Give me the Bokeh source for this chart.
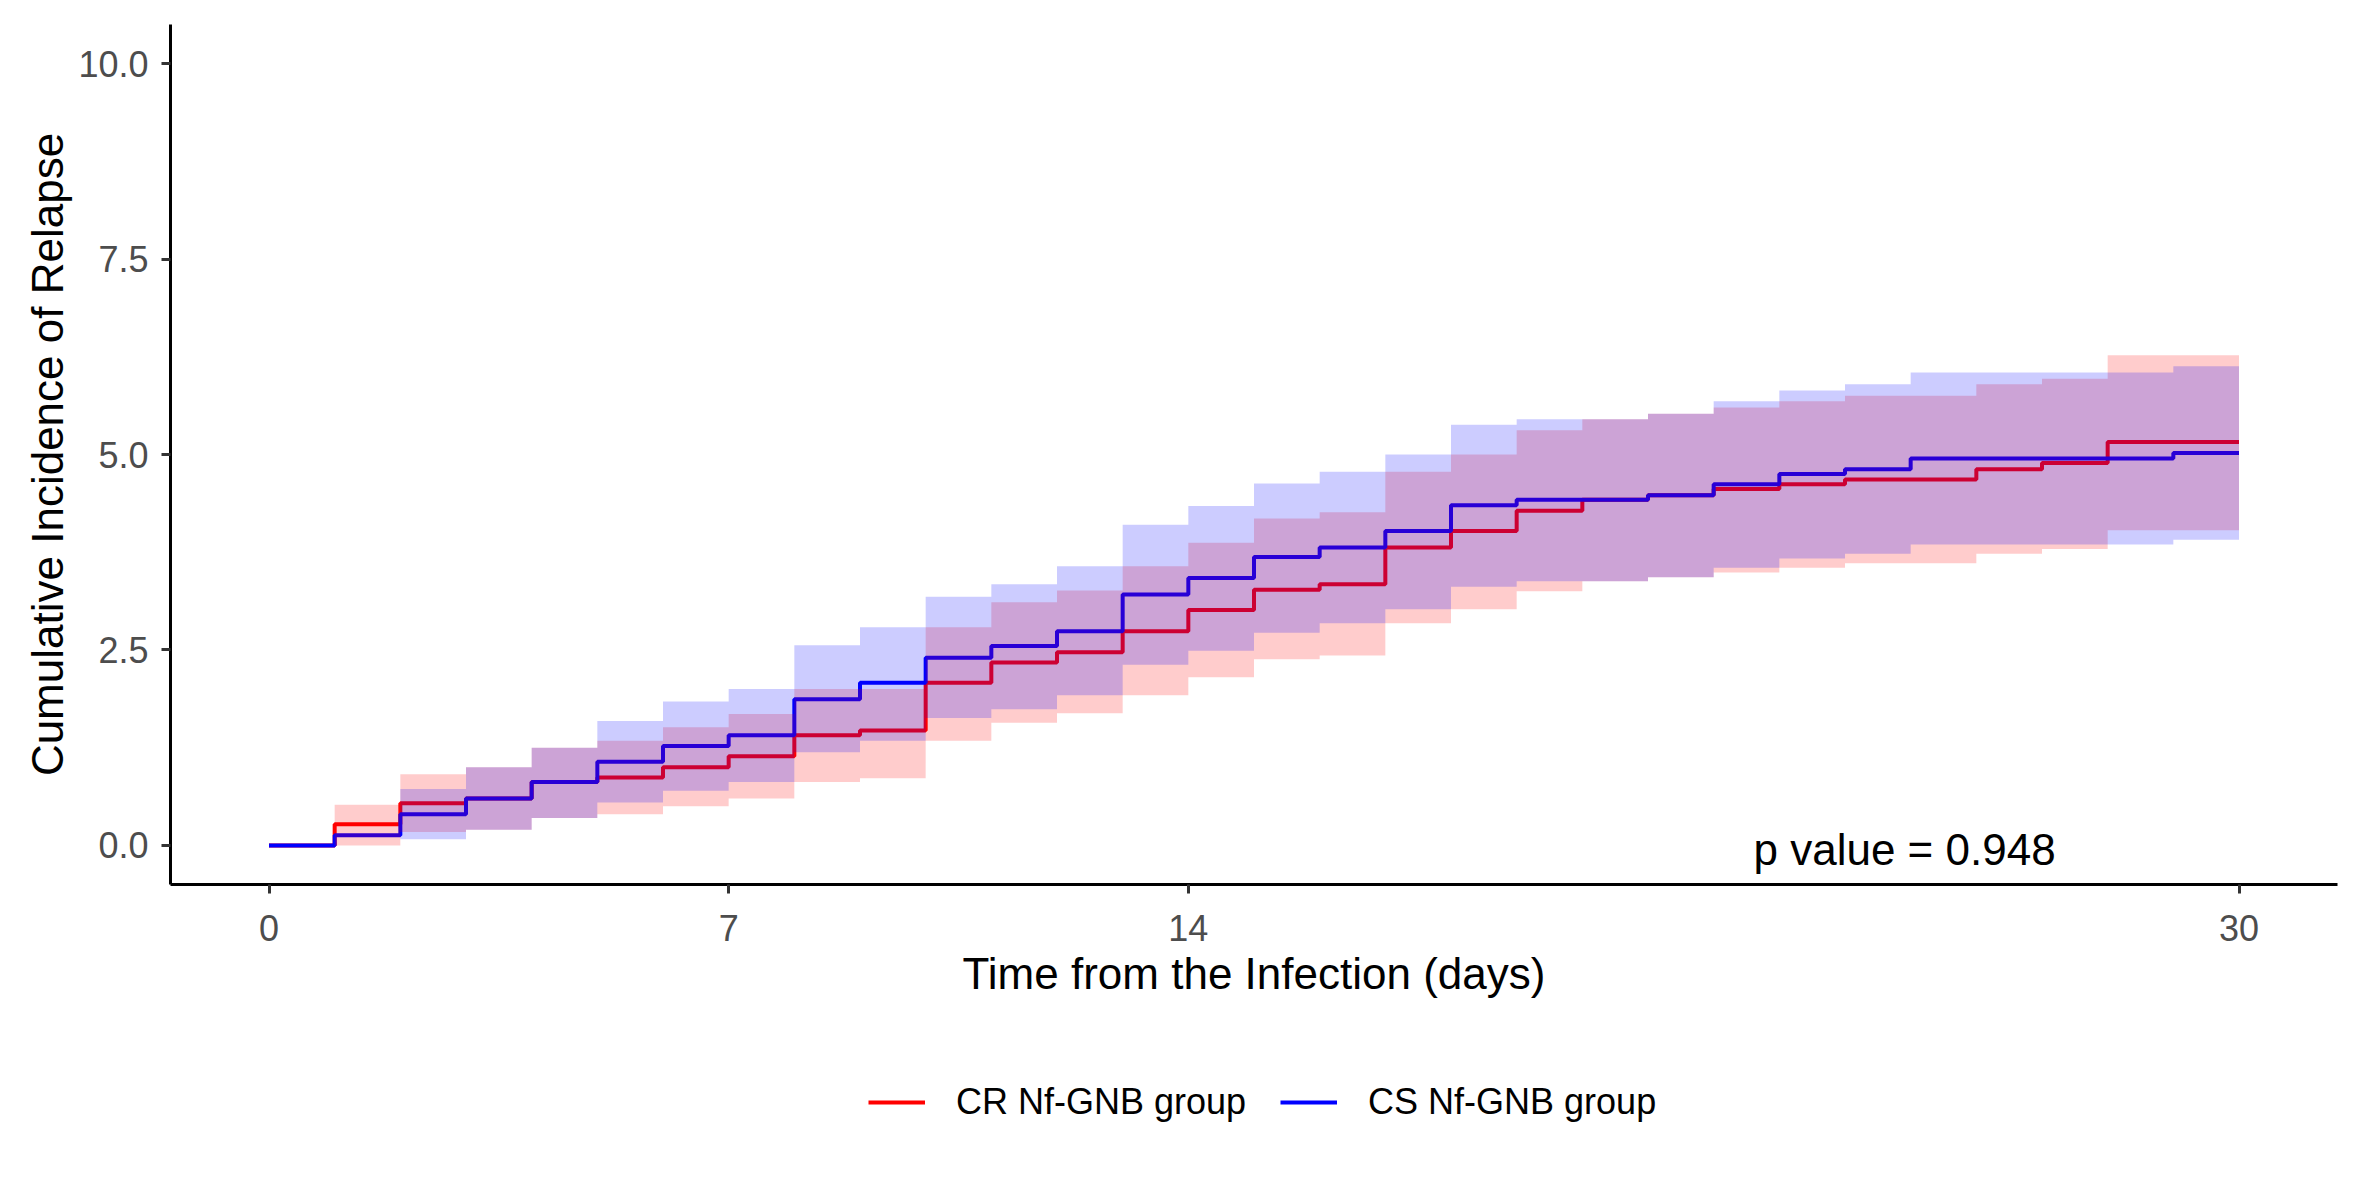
from bokeh.plotting import figure
from bokeh.layouts import column
from bokeh.models import Range1d, FixedTicker, Legend, LegendItem
from bokeh.core.properties import value
from bokeh.embed import file_html
from bokeh.resources import INLINE

# ---- data ----
days = list(range(0, 31))  # interval starts 0..29, end 30

cr_est = [0.00, 0.27, 0.54, 0.60, 0.81, 0.87, 1.00, 1.14, 1.41, 1.47,
          2.08, 2.34, 2.47, 2.74, 3.01, 3.27, 3.34, 3.81, 4.02, 4.28,
          4.42, 4.48, 4.56, 4.62, 4.68, 4.68, 4.81, 4.89, 5.16, 5.16]
cs_est = [0.00, 0.13, 0.40, 0.60, 0.81, 1.07, 1.27, 1.41, 1.87, 2.08,
          2.40, 2.55, 2.74, 3.21, 3.42, 3.69, 3.81, 4.02, 4.35, 4.42,
          4.42, 4.48, 4.62, 4.75, 4.81, 4.95, 4.95, 4.95, 4.95, 5.02]

cr_lower = [None, 0.00, 0.17, 0.20, 0.35, 0.40, 0.50, 0.60, 0.81, 0.86,
            1.34, 1.57, 1.69, 1.92, 2.15, 2.38, 2.43, 2.84, 3.02, 3.25,
            3.38, 3.43, 3.49, 3.55, 3.61, 3.61, 3.73, 3.79, 4.03, 4.03]
cr_upper = [None, 0.52, 0.91, 1.00, 1.25, 1.34, 1.51, 1.68, 2.00, 2.00,
            2.79, 3.11, 3.26, 3.57, 3.87, 4.18, 4.26, 4.78, 5.00, 5.31,
            5.45, 5.52, 5.60, 5.68, 5.75, 5.75, 5.90, 5.97, 6.27, 6.27]
cs_lower = [None, None, 0.08, 0.20, 0.35, 0.55, 0.70, 0.81, 1.19, 1.34,
            1.63, 1.74, 1.92, 2.31, 2.49, 2.72, 2.84, 3.02, 3.31, 3.38,
            3.38, 3.43, 3.55, 3.67, 3.73, 3.85, 3.85, 3.85, 3.85, 3.91]
cs_upper = [None, None, 0.72, 1.00, 1.25, 1.59, 1.84, 2.00, 2.56, 2.79,
            3.18, 3.34, 3.57, 4.10, 4.34, 4.63, 4.78, 5.00, 5.38, 5.45,
            5.45, 5.52, 5.68, 5.82, 5.90, 6.05, 6.05, 6.05, 6.05, 6.13]

series_names = ["CR Nf-GNB group", "CS Nf-GNB group"]
series_colors = ["#FF0000", "#0000FF"]

x_ticks = [0, 7, 14, 30]
y_ticks = [0, 2.5, 5, 7.5, 10]
y_tick_labels = ["0.0", "2.5", "5.0", "7.5", "10.0"]
x_title = "Time from the Infection (days)"
y_title = "Cumulative Incidence of Relapse"
p_text = "p value =  0.948"
p_pos = (25, 0)

FONT = "Liberation Sans"
W = 2346
H_MAIN = 1025
H_LEG = 140

p = figure(width=W, height=H_MAIN, output_backend="svg", toolbar_location=None,
           x_range=Range1d(-1.5, 31.5), y_range=Range1d(-0.5, 10.5),
           min_border_left=170, min_border_right=9, min_border_top=24,
           min_border_bottom=H_MAIN - 884)
p.outline_line_color = None
p.xgrid.visible = False
p.ygrid.visible = False
p.background_fill_color = "white"
p.border_fill_color = "white"

# step lines (drawn first: ribbons tint them)
for est, col in zip([cr_est, cs_est], series_colors):
    p.step(x=days, y=est + [est[-1]], mode="after", line_color=col, line_width=4)

# ribbons
for lo, hi, col in zip([cr_lower, cs_lower], [cr_upper, cs_upper], series_colors):
    idx = [i for i in range(len(lo)) if lo[i] is not None]
    xs = [days[i] for i in idx] + [days[-1]]
    y1 = [lo[i] for i in idx] + [lo[idx[-1]]]
    y2 = [hi[i] for i in idx] + [hi[idx[-1]]]
    p.varea_step(x=xs, y1=y1, y2=y2, step_mode="after", fill_color=col,
                 fill_alpha=0.2)

p.text(x=[p_pos[0]], y=[p_pos[1]], text=[p_text], text_align="center",
       text_baseline="middle", y_offset=4, text_font=value(FONT),
       text_font_size="44px", text_color="black")

# axes
for ax in (p.xaxis[0], p.yaxis[0]):
    ax.axis_line_color = "black"
    ax.axis_line_width = 3
    ax.major_tick_line_color = "#333333"
    ax.major_tick_line_width = 3
    ax.major_tick_out = 9
    ax.major_tick_in = 0
    ax.minor_tick_line_color = None
    ax.major_label_text_font = FONT
    ax.major_label_text_font_size = "36px"
    ax.major_label_text_color = "#4D4D4D"
    ax.axis_label_text_font = FONT
    ax.axis_label_text_font_size = "44px"
    ax.axis_label_text_font_style = "normal"
    ax.axis_label_text_color = "black"

p.xaxis[0].ticker = FixedTicker(ticks=x_ticks)
p.yaxis[0].ticker = FixedTicker(ticks=y_ticks)
p.yaxis[0].major_label_overrides = {t: l for t, l in zip(y_ticks, y_tick_labels)}
p.xaxis[0].axis_label = x_title
p.yaxis[0].axis_label = y_title
p.xaxis[0].major_label_standoff = 21
p.yaxis[0].major_label_standoff = 13
p.xaxis[0].axis_label_standoff = 5
p.yaxis[0].axis_label_standoff = 3

# legend strip below the chart (its series are drawn outside its visible range,
# only their legend glyphs show)
q = figure(width=W, height=H_LEG, output_backend="svg", toolbar_location=None,
           x_range=Range1d(-100, -99), y_range=Range1d(-100, -99),
           min_border=0, x_axis_type=None, y_axis_type=None)
q.outline_line_color = None
q.xgrid.visible = False
q.ygrid.visible = False
q.border_fill_color = "white"
leg_renderers = [q.step(x=days, y=est + [est[-1]], mode="after", line_color=c, line_width=4)
                 for est, c in zip([cr_est, cs_est], series_colors)]

legend = Legend(items=[LegendItem(label=n, renderers=[r]) for n, r in zip(series_names, leg_renderers)],
                orientation="horizontal", location=(698, 42), padding=0, margin=0,
                spacing=34, glyph_width=57, glyph_height=40, label_height=40,
                label_standoff=31, label_text_font=FONT, label_text_font_size="36px",
                label_text_color="black", border_line_color=None,
                background_fill_alpha=0)
q.add_layout(legend, "center")

layout = column(p, q, spacing=0)
open("out.html", "w").write(file_html(layout, INLINE))
